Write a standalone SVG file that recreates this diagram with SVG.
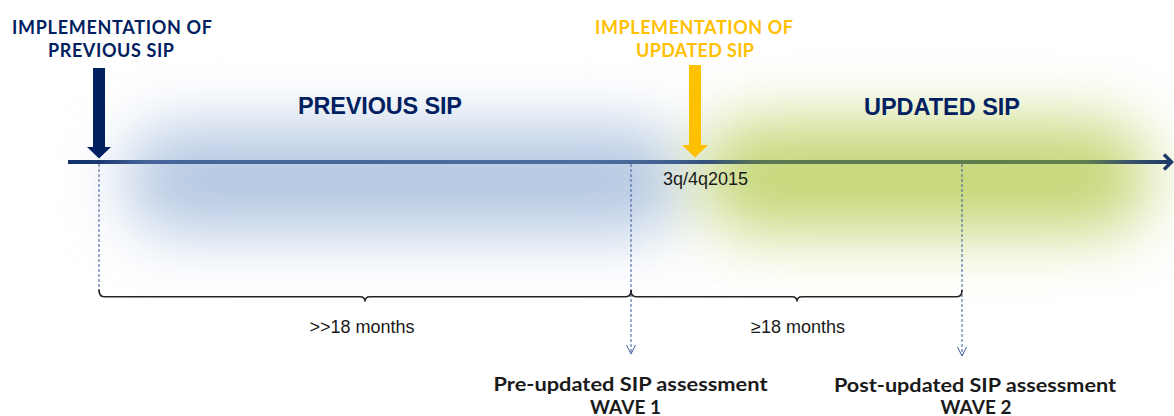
<svg xmlns="http://www.w3.org/2000/svg" width="1174" height="416" viewBox="0 0 1174 416">
  <defs>
    <style>
      .head { font-family: Lato, "DejaVu Sans", sans-serif; font-weight: 700; font-size: 18px; text-anchor: middle; }
      .navy { fill: #002060; }
      .gold { fill: #ffc000; }
      .phase { font-family: "Liberation Sans", Arial, sans-serif; font-weight: 700; font-size: 23.5px; fill: #002060; }
      .span { font-family: "Liberation Sans", Arial, sans-serif; font-size: 18px; fill: #1a1a1a; text-anchor: middle; }
      .wave { font-family: Lato, "DejaVu Sans", sans-serif; font-weight: 700; font-size: 19px; fill: #1a1a1a; text-anchor: middle; }
      .guide { fill: none; stroke: #3c5a98; stroke-width: 1; stroke-dasharray: 3 2; }
      .tip { fill: none; stroke: #3c5a98; stroke-width: 1; }
      .brace { fill: none; stroke: #262626; stroke-width: 1.6; }
    </style>
    <filter id="soft" x="-40%" y="-120%" width="180%" height="340%">
      <feGaussianBlur stdDeviation="32"/>
    </filter>
    <linearGradient id="axis" gradientUnits="userSpaceOnUse" x1="68" y1="0" x2="1172" y2="0">
      <stop offset="0" stop-color="#12306a"/>
      <stop offset="0.03" stop-color="#1c3b72"/>
      <stop offset="0.07" stop-color="#45659a"/>
      <stop offset="0.48" stop-color="#4d6d9f"/>
      <stop offset="0.55" stop-color="#3e5e8f"/>
      <stop offset="0.58" stop-color="#33507a"/>
      <stop offset="0.63" stop-color="#5a7850"/>
      <stop offset="0.92" stop-color="#60804c"/>
      <stop offset="0.96" stop-color="#3a5468"/>
      <stop offset="1" stop-color="#1e3a68"/>
    </linearGradient>
  </defs>

  <rect width="1174" height="416" fill="#ffffff"/>

  <!-- soft period backgrounds -->
  <g id="period-glows">
    <rect x="125" y="128" width="560" height="104" rx="50" fill="#b2c6e1" filter="url(#soft)"/>
    <rect x="700" y="122" width="450" height="110" rx="54" fill="#c4d674" filter="url(#soft)"/>
  </g>

  <!-- main time axis -->
  <g id="axis">
    <line x1="68" y1="162" x2="1170" y2="162" stroke="url(#axis)" stroke-width="4"/>
    <polyline points="1164,154.5 1171.5,162 1164,169.5" fill="none" stroke="#1e3a68" stroke-width="3.5"/>
  </g>

  <g id="connectors">
    <line class="guide" x1="99" y1="164" x2="99" y2="292"/>
    <line class="guide" x1="631" y1="164" x2="631" y2="353"/>
    <polyline class="tip" points="626.5,345 631,354 635.5,345"/>
    <line class="guide" x1="962" y1="164" x2="962" y2="355"/>
    <polyline class="tip" points="957.5,347 962,356 966.5,347"/>
  </g>

  <g id="previous-start">
    <text class="head navy" x="112" y="34" textLength="200">IMPLEMENTATION OF</text>
    <text class="head navy" x="111" y="57" textLength="126">PREVIOUS SIP</text>
    <polygon class="navy" points="93,68 105,68 105,147 111,147 99,158.5 87,147 93,147"/>
  </g>

  <g id="updated-start">
    <text class="head gold" x="694" y="34" textLength="198">IMPLEMENTATION OF</text>
    <text class="head gold" x="695" y="57" textLength="118">UPDATED SIP</text>
    <polygon class="gold" points="689,65 701,65 701,145 708,145 695,157.5 682,145 689,145"/>
    <text class="span" x="705.5" y="185" font-size="20">3q/4q2015</text>
  </g>

  <g id="previous-period">
    <text class="phase" x="298" y="114" textLength="164">PREVIOUS SIP</text>
  </g>

  <g id="updated-period">
    <text class="phase" x="864" y="114.5" textLength="156">UPDATED SIP</text>
  </g>

  <g id="span-first">
    <path class="brace" d="M99,289.5 Q99,296.7 104,296.7 L360,296.7 Q365,296.7 365,301.5 Q365,296.7 370,296.7 L626,296.7 Q631,296.7 631,290"/>
    <text class="span" x="362" y="333">&gt;&gt;18 months</text>
  </g>

  <g id="span-second">
    <path class="brace" d="M631,290 Q631,296.7 636,296.7 L792,296.7 Q797,296.7 797,301.5 Q797,296.7 802,296.7 L957,296.7 Q962,296.7 962,290"/>
    <text class="span" x="798" y="333">≥18 months</text>
  </g>

  <g id="wave-1">
    <text class="wave" x="630.5" y="390.5" textLength="274" lengthAdjust="spacingAndGlyphs">Pre-updated SIP assessment</text>
    <text class="wave" x="625.5" y="413.5">WAVE 1</text>
  </g>

  <g id="wave-2">
    <text class="wave" x="975" y="391.5" textLength="282" lengthAdjust="spacingAndGlyphs">Post-updated SIP assessment</text>
    <text class="wave" x="976" y="414">WAVE 2</text>
  </g>
</svg>
